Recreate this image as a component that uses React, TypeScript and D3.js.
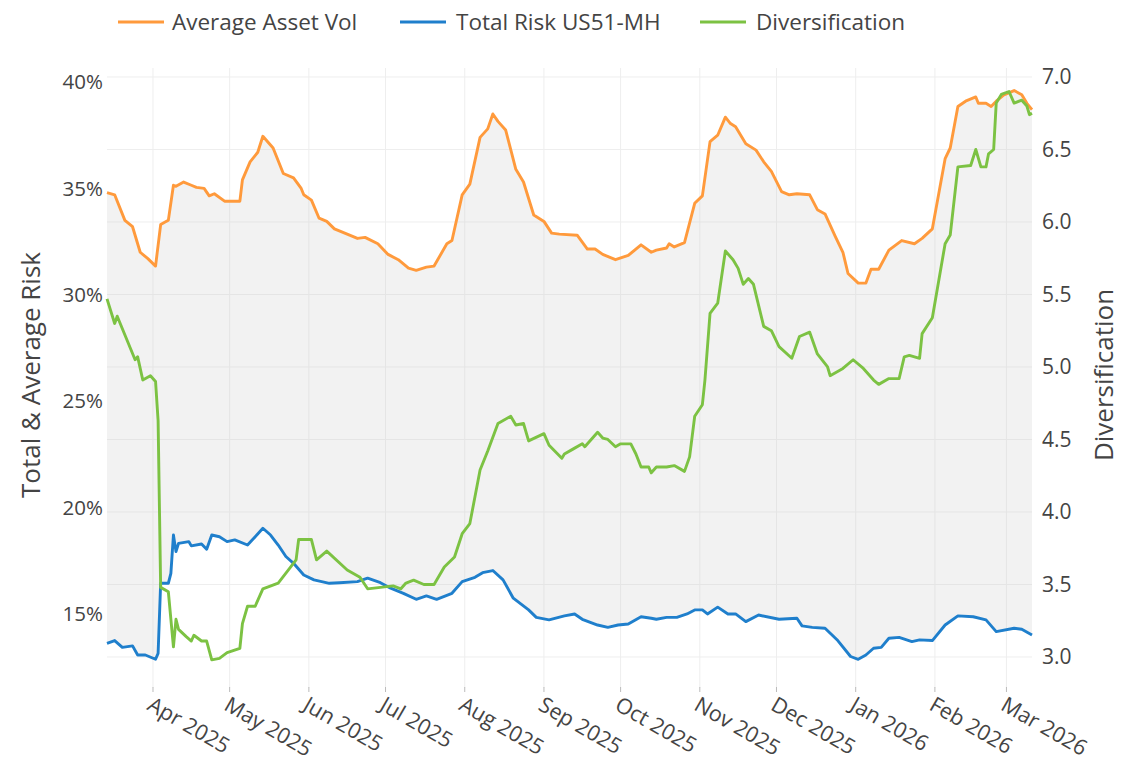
import React from "react";
import * as d3 from "d3";

type Pt = [string, number];

const avgAssetVol: Pt[] = [
  ["2025-03-14", 34.8], ["2025-03-17", 34.7], ["2025-03-21", 33.5], ["2025-03-24", 33.2], ["2025-03-27", 32.0],
  ["2025-03-30", 31.7], ["2025-04-02", 31.35], ["2025-04-04", 33.3], ["2025-04-07", 33.5], ["2025-04-09", 35.15],
  ["2025-04-10", 35.1], ["2025-04-13", 35.3], ["2025-04-16", 35.15], ["2025-04-18", 35.05], ["2025-04-21", 35.0],
  ["2025-04-23", 34.65], ["2025-04-25", 34.75], ["2025-04-29", 34.4], ["2025-05-05", 34.4], ["2025-05-06", 35.4],
  ["2025-05-09", 36.25], ["2025-05-12", 36.7], ["2025-05-14", 37.45], ["2025-05-18", 36.9], ["2025-05-22", 35.7],
  ["2025-05-26", 35.5], ["2025-05-29", 35.0], ["2025-05-30", 34.7], ["2025-06-02", 34.45], ["2025-06-05", 33.6],
  ["2025-06-08", 33.45], ["2025-06-11", 33.1], ["2025-06-16", 32.85], ["2025-06-20", 32.65], ["2025-06-23", 32.7],
  ["2025-06-28", 32.4], ["2025-07-02", 31.9], ["2025-07-06", 31.65], ["2025-07-10", 31.25], ["2025-07-13", 31.15],
  ["2025-07-17", 31.3], ["2025-07-20", 31.35], ["2025-07-25", 32.4], ["2025-07-27", 32.55], ["2025-07-31", 34.7],
  ["2025-08-03", 35.2], ["2025-08-07", 37.4], ["2025-08-10", 37.8], ["2025-08-12", 38.5], ["2025-08-14", 38.15],
  ["2025-08-17", 37.75], ["2025-08-21", 35.9], ["2025-08-24", 35.3], ["2025-08-28", 33.75], ["2025-09-01", 33.45],
  ["2025-09-04", 32.9], ["2025-09-07", 32.85], ["2025-09-14", 32.8], ["2025-09-18", 32.15], ["2025-09-21", 32.15],
  ["2025-09-24", 31.9], ["2025-09-29", 31.65], ["2025-10-04", 31.85], ["2025-10-09", 32.35], ["2025-10-13", 32.0],
  ["2025-10-15", 32.1], ["2025-10-19", 32.2], ["2025-10-20", 32.4], ["2025-10-22", 32.25], ["2025-10-26", 32.45],
  ["2025-10-30", 34.3], ["2025-11-02", 34.65], ["2025-11-05", 37.2], ["2025-11-08", 37.5], ["2025-11-11", 38.35],
  ["2025-11-13", 38.05], ["2025-11-15", 37.9], ["2025-11-19", 37.1], ["2025-11-23", 36.8], ["2025-11-26", 36.25],
  ["2025-11-29", 35.8], ["2025-12-03", 34.85], ["2025-12-06", 34.7], ["2025-12-09", 34.75], ["2025-12-14", 34.7],
  ["2025-12-17", 34.0], ["2025-12-20", 33.8], ["2025-12-24", 32.75], ["2025-12-27", 32.0], ["2025-12-29", 31.0],
  ["2026-01-02", 30.55], ["2026-01-05", 30.55], ["2026-01-07", 31.2], ["2026-01-10", 31.2], ["2026-01-14", 32.1],
  ["2026-01-19", 32.55], ["2026-01-24", 32.4], ["2026-01-27", 32.65], ["2026-01-31", 33.1], ["2026-02-05", 36.4],
  ["2026-02-07", 36.9], ["2026-02-10", 38.85], ["2026-02-13", 39.1], ["2026-02-17", 39.3], ["2026-02-18", 39.0],
  ["2026-02-21", 39.0], ["2026-02-23", 38.85], ["2026-02-25", 39.1], ["2026-02-28", 39.4], ["2026-03-04", 39.6],
  ["2026-03-07", 39.4], ["2026-03-09", 39.0], ["2026-03-11", 38.7],
];

const totalRisk: Pt[] = [
  ["2025-03-14", 13.62], ["2025-03-17", 13.75], ["2025-03-20", 13.43], ["2025-03-24", 13.5], ["2025-03-26", 13.07],
  ["2025-03-29", 13.07], ["2025-04-02", 12.87], ["2025-04-03", 13.15], ["2025-04-04", 16.44], ["2025-04-07", 16.44],
  ["2025-04-08", 16.91], ["2025-04-09", 18.71], ["2025-04-10", 17.93], ["2025-04-11", 18.32], ["2025-04-15", 18.4],
  ["2025-04-16", 18.2], ["2025-04-20", 18.29], ["2025-04-22", 18.04], ["2025-04-24", 18.71], ["2025-04-27", 18.63],
  ["2025-04-30", 18.4], ["2025-05-03", 18.48], ["2025-05-08", 18.24], ["2025-05-11", 18.63], ["2025-05-14", 19.03],
  ["2025-05-17", 18.71], ["2025-05-20", 18.24], ["2025-05-23", 17.7], ["2025-05-26", 17.38], ["2025-05-30", 16.83],
  ["2025-06-03", 16.6], ["2025-06-09", 16.44], ["2025-06-13", 16.47], ["2025-06-20", 16.52], ["2025-06-24", 16.68],
  ["2025-06-29", 16.47], ["2025-07-03", 16.21], ["2025-07-08", 15.97], ["2025-07-13", 15.69], ["2025-07-17", 15.85],
  ["2025-07-21", 15.69], ["2025-07-27", 15.97], ["2025-07-31", 16.52], ["2025-08-05", 16.72], ["2025-08-08", 16.94],
  ["2025-08-12", 17.04], ["2025-08-16", 16.6], ["2025-08-20", 15.74], ["2025-08-26", 15.19], ["2025-08-29", 14.84],
  ["2025-09-03", 14.72], ["2025-09-09", 14.91], ["2025-09-13", 15.0], ["2025-09-16", 14.75], ["2025-09-22", 14.48],
  ["2025-09-26", 14.37], ["2025-09-30", 14.48], ["2025-10-04", 14.53], ["2025-10-09", 14.87], ["2025-10-13", 14.8],
  ["2025-10-15", 14.75], ["2025-10-19", 14.84], ["2025-10-23", 14.84], ["2025-10-27", 15.0], ["2025-10-30", 15.19],
  ["2025-11-02", 15.19], ["2025-11-04", 15.0], ["2025-11-08", 15.32], ["2025-11-12", 15.0], ["2025-11-15", 15.0],
  ["2025-11-19", 14.64], ["2025-11-24", 14.95], ["2025-12-02", 14.75], ["2025-12-09", 14.8], ["2025-12-11", 14.44],
  ["2025-12-15", 14.37], ["2025-12-20", 14.33], ["2025-12-25", 13.75], ["2025-12-30", 13.0], ["2026-01-02", 12.87],
  ["2026-01-05", 13.07], ["2026-01-08", 13.39], ["2026-01-11", 13.43], ["2026-01-14", 13.86], ["2026-01-18", 13.9],
  ["2026-01-23", 13.7], ["2026-01-26", 13.78], ["2026-01-31", 13.75], ["2026-02-05", 14.48], ["2026-02-10", 14.91],
  ["2026-02-16", 14.87], ["2026-02-21", 14.72], ["2026-02-25", 14.17], ["2026-03-04", 14.33], ["2026-03-07", 14.28],
  ["2026-03-11", 14.01],
];

const diversification: Pt[] = [
  ["2025-03-14", 5.47], ["2025-03-17", 5.3], ["2025-03-18", 5.35], ["2025-03-25", 5.05], ["2025-03-26", 5.07],
  ["2025-03-28", 4.91], ["2025-03-31", 4.94], ["2025-04-02", 4.9], ["2025-04-03", 4.63], ["2025-04-04", 3.48],
  ["2025-04-07", 3.45], ["2025-04-09", 3.07], ["2025-04-10", 3.26], ["2025-04-11", 3.19], ["2025-04-14", 3.14],
  ["2025-04-16", 3.11], ["2025-04-17", 3.15], ["2025-04-20", 3.11], ["2025-04-22", 3.11], ["2025-04-24", 2.98],
  ["2025-04-27", 2.99], ["2025-04-30", 3.03], ["2025-05-05", 3.06], ["2025-05-06", 3.23], ["2025-05-08", 3.35],
  ["2025-05-11", 3.35], ["2025-05-14", 3.47], ["2025-05-20", 3.51], ["2025-05-24", 3.6], ["2025-05-27", 3.67],
  ["2025-05-28", 3.81], ["2025-06-02", 3.81], ["2025-06-04", 3.67], ["2025-06-08", 3.73], ["2025-06-16", 3.6],
  ["2025-06-21", 3.55], ["2025-06-24", 3.47], ["2025-06-29", 3.48], ["2025-07-04", 3.49], ["2025-07-07", 3.47],
  ["2025-07-09", 3.51], ["2025-07-12", 3.53], ["2025-07-16", 3.5], ["2025-07-20", 3.5], ["2025-07-24", 3.62],
  ["2025-07-28", 3.69], ["2025-07-31", 3.85], ["2025-08-03", 3.92], ["2025-08-07", 4.29], ["2025-08-10", 4.42],
  ["2025-08-14", 4.61], ["2025-08-19", 4.66], ["2025-08-21", 4.6], ["2025-08-24", 4.61], ["2025-08-26", 4.49],
  ["2025-09-01", 4.54], ["2025-09-03", 4.46], ["2025-09-08", 4.37], ["2025-09-09", 4.4], ["2025-09-12", 4.43],
  ["2025-09-16", 4.47], ["2025-09-17", 4.45], ["2025-09-22", 4.55], ["2025-09-24", 4.51], ["2025-09-26", 4.5],
  ["2025-09-29", 4.45], ["2025-10-01", 4.47], ["2025-10-05", 4.47], ["2025-10-07", 4.4], ["2025-10-09", 4.31],
  ["2025-10-12", 4.31], ["2025-10-13", 4.27], ["2025-10-15", 4.31], ["2025-10-19", 4.31], ["2025-10-22", 4.32],
  ["2025-10-26", 4.28], ["2025-10-28", 4.38], ["2025-10-30", 4.66], ["2025-11-02", 4.74], ["2025-11-03", 4.91],
  ["2025-11-05", 5.37], ["2025-11-08", 5.44], ["2025-11-11", 5.8], ["2025-11-14", 5.74], ["2025-11-16", 5.68],
  ["2025-11-18", 5.57], ["2025-11-20", 5.61], ["2025-11-22", 5.57], ["2025-11-26", 5.28], ["2025-11-29", 5.25],
  ["2025-12-02", 5.14], ["2025-12-07", 5.06], ["2025-12-10", 5.21], ["2025-12-14", 5.24], ["2025-12-17", 5.09],
  ["2025-12-21", 5.0], ["2025-12-22", 4.94], ["2025-12-27", 4.99], ["2025-12-31", 5.05], ["2026-01-04", 4.99],
  ["2026-01-08", 4.91], ["2026-01-10", 4.88], ["2026-01-14", 4.92], ["2026-01-18", 4.92], ["2026-01-20", 5.07],
  ["2026-01-22", 5.08], ["2026-01-26", 5.06], ["2026-01-27", 5.23], ["2026-01-31", 5.34], ["2026-02-05", 5.85],
  ["2026-02-07", 5.91], ["2026-02-10", 6.38], ["2026-02-15", 6.39], ["2026-02-17", 6.5], ["2026-02-19", 6.38],
  ["2026-02-21", 6.38], ["2026-02-22", 6.47], ["2026-02-24", 6.5], ["2026-02-25", 6.82], ["2026-02-27", 6.88],
  ["2026-03-02", 6.9], ["2026-03-04", 6.82], ["2026-03-07", 6.84], ["2026-03-09", 6.8], ["2026-03-10", 6.74],
  ["2026-03-11", 6.75],
];

const leftTicks = [15, 20, 25, 30, 35, 40];
const rightTicks = [3.0, 3.5, 4.0, 4.5, 5.0, 5.5, 6.0, 6.5, 7.0];
const seriesNames = ["Average Asset Vol", "Total Risk US51-MH", "Diversification"];
const seriesColors = ["#ff9a3c", "#1f7fcc", "#7cc243"];

const W = 1124;
const H = 779;
const plot = { left: 107, right: 1032, top: 68, bottom: 688 };
const FONT = "'Open Sans', 'Noto Sans', sans-serif";
const TXT = "#444";

export default function App() {
  const parse = d3.timeParse("%Y-%m-%d");
  const toD = (s: Pt[]) => s.map(([d, v]) => ({ date: parse(d) as Date, value: v }));
  const vol = toD(avgAssetVol);
  const risk = toD(totalRisk);
  const div = toD(diversification);

  const x = d3.scaleTime().domain([parse("2025-03-14") as Date, parse("2026-03-11") as Date]).range([plot.left, plot.right]);
  const yL = d3.scaleLinear().domain([11.52, 40.66]).range([plot.bottom, plot.top]);
  const yR = d3.scaleLinear().domain([2.786, 7.062]).range([plot.bottom, plot.top]);

  const lineL = d3.line<{ date: Date; value: number }>().x((d) => x(d.date)).y((d) => yL(d.value));
  const lineR = d3.line<{ date: Date; value: number }>().x((d) => x(d.date)).y((d) => yR(d.value));

  const volPath = lineL(vol) || "";
  const riskPath = lineL(risk) || "";
  const riskRev = lineL([...risk].reverse()) || "";
  const fillPath = volPath + "L" + riskRev.slice(1) + "Z";
  const divPath = lineR(div) || "";

  const months = d3.timeMonth.range(parse("2025-04-01") as Date, parse("2026-03-02") as Date);
  const fmt = d3.timeFormat("%b %Y");

  const legendItems = [
    { lx: 118, tx: 172 },
    { lx: 400, tx: 456 },
    { lx: 700, tx: 756 },
  ];

  return (
    <svg width={W} height={H} style={{ position: "absolute", left: 0, top: 0, background: "#fff" }} fontFamily={FONT}>
      {/* grid */}
      {months.map((m, i) => (
        <line key={"vg" + i} x1={x(m)} x2={x(m)} y1={plot.top} y2={plot.bottom} stroke="#eeeeee" strokeWidth={1} />
      ))}
      {rightTicks.map((t, i) => (
        <line key={"hg" + i} x1={plot.left} x2={plot.right} y1={yR(t)} y2={yR(t)} stroke="#eeeeee" strokeWidth={1} />
      ))}
      {/* fill between */}
      <path d={fillPath} fill="rgba(200,200,200,0.24)" stroke="none" />
      {/* lines */}
      <path d={volPath} fill="none" stroke={seriesColors[0]} strokeWidth={2.9} strokeLinejoin="round" />
      <path d={riskPath} fill="none" stroke={seriesColors[1]} strokeWidth={2.9} strokeLinejoin="round" />
      <path d={divPath} fill="none" stroke={seriesColors[2]} strokeWidth={2.9} strokeLinejoin="round" />

      {/* x ticks */}
      {months.map((m, i) => (
        <g key={"xt" + i}>
          <line x1={x(m)} x2={x(m)} y1={687} y2={692} stroke="#bbb" strokeWidth={1} />
          <text
            transform={`translate(${x(m) - 7},${709}) rotate(30)`}
            fontSize={21.5}
            fill={TXT}
            textAnchor="start"
          >
            {fmt(m)}
          </text>
        </g>
      ))}

      {/* left ticks */}
      {leftTicks.map((t) => (
        <text key={"l" + t} x={103} y={yL(t)} dy="0.35em" textAnchor="end" fontSize={20.5} fill={TXT}>
          {t}%
        </text>
      ))}
      {/* right ticks */}
      {rightTicks.map((t) => (
        <text key={"r" + t} x={1042} y={yR(t)} dy="0.35em" textAnchor="start" fontSize={21} fill={TXT}>
          {t.toFixed(1)}
        </text>
      ))}

      {/* axis titles */}
      <text transform={`translate(40,${375}) rotate(-90)`} textAnchor="middle" fontSize={26} fill={TXT}>
        Total &amp; Average Risk
      </text>
      <text transform={`translate(1113,${375}) rotate(-90)`} textAnchor="middle" fontSize={26} fill={TXT}>
        Diversification
      </text>

      {/* legend */}
      {legendItems.map((it, i) => (
        <g key={"lg" + i}>
          <line x1={it.lx} x2={it.lx + 46} y1={22} y2={22} stroke={seriesColors[i]} strokeWidth={3} />
          <text x={it.tx} y={22} dy="0.35em" fontSize={22.5} fill={TXT}>
            {seriesNames[i]}
          </text>
        </g>
      ))}
    </svg>
  );
}
